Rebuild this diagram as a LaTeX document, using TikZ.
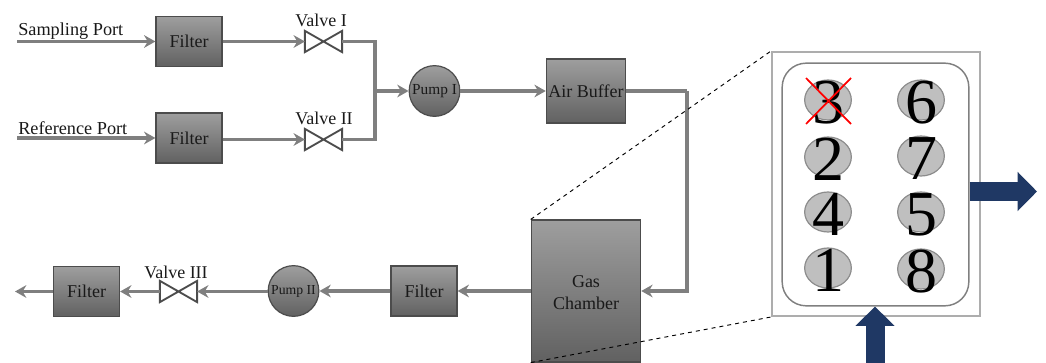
\documentclass[tikz,border=0pt]{standalone}
\usepackage{fontspec}
\setmainfont{Liberation Serif}
\usetikzlibrary{arrows.meta,shapes.geometric}
\definecolor{navy}{HTML}{1F3864}
\definecolor{pipegray}{HTML}{7F7F7F}
\definecolor{crossred}{HTML}{FF0000}
\tikzset{>=Stealth,
  txt/.style={text=black!90,inner sep=0pt},
  box/.style={draw=black!70,line width=.9pt,top color=black!38,bottom color=black!62,inner sep=0pt,text=black!90,font=\fontsize{13.5}{16.5}\selectfont},
  pump/.style={box,circle,minimum size=38pt},
  valve/.style={inner sep=0pt,minimum width=27.5pt,minimum height=15.5pt},
  valveline/.style={draw=black!70,line width=1.4pt,line join=miter},
  pipe/.style={draw=pipegray,line width=2.5pt},
  flow/.style={pipe,-{Stealth[length=8.5pt,width=9.5pt]}},
  cell/.style={ellipse,draw=black!45,fill=black!25,line width=.9pt,minimum width=35pt,minimum height=30pt,inner sep=0pt},
  digit/.style={inner sep=0pt,font=\fontsize{48}{48}\selectfont},
  bigflow/.style={draw=navy,line width=14.25pt,-{Triangle[length=14.5pt,width=28.5pt]}}}
\begin{document}
\begin{tikzpicture}[x=.75pt,y=-.75pt]
\useasboundingbox (0,0) rectangle (1046,363);
\node[box,minimum width=49.5pt,minimum height=37.5pt] (f1) at (189,41.5){Filter};
\node[box,minimum width=49.5pt,minimum height=37.5pt] (f2) at (189,138){Filter};
\node[box,minimum width=49.5pt,minimum height=37.5pt] (f3) at (424,291){Filter};
\node[box,minimum width=49.5pt,minimum height=37.5pt] (f4) at (86.5,291.5){Filter};
\node[valve] (v1) at (323.5,41.5){};\node[valve] (v2) at (323.5,139.5){};\node[valve] (v3) at (178.5,291.5){};
\foreach \vv in {v1,v2,v3}\draw[valveline] (\vv.north west)--(\vv.south east)--(\vv.north east)--(\vv.south west)--cycle;
\node[txt,anchor=base west,font=\fontsize{13.7}{16}\selectfont] (sport) at (18,36){Sampling Port};
\node[txt,anchor=base west,font=\fontsize{13.7}{16}\selectfont] (rport) at (18,134.5){Reference Port};
\node[txt,anchor=base,font=\fontsize{13.5}{16}\selectfont] (vl1) at (321,27){Valve I};
\node[txt,anchor=base,font=\fontsize{13.5}{16}\selectfont] (vl2) at (324,125){Valve II};
\node[txt,anchor=base,font=\fontsize{13.5}{16}\selectfont] (vl3) at (176,279){Valve III};
\node[pump,font=\fontsize{11.5}{14}\selectfont] (p1) at (434.5,91){Pump I};
\node[pump,font=\fontsize{10.3}{12}\selectfont] (p2) at (293.5,291){Pump II};
\node[box,minimum width=59.5pt,minimum height=48pt] (buf) at (586,91){Air Buffer};
\node[box,minimum width=82pt,minimum height=106.5pt] (gas) at (586,291){};
\node[txt,align=center,font=\fontsize{13.5}{16.5}\selectfont] (gastxt) at (586,293){Gas\\Chamber};
% inlets and outlet
\coordinate (in1) at (17,41.5);\coordinate (in2) at (17,138);\coordinate (out) at (15,291.5);
\coordinate (j1) at (375,91);\coordinate (j2) at (687,91);
\draw[flow] (in1)--(in1 -| f1.west);\draw[flow] (in2)--(in2 -| f2.west);
\draw[flow] (f1.east)--(v1.west);\draw[flow] (f2.east |- v2)--(v2.west);
\draw[pipe,line join=miter] (v1.east) -| (j1) |- (v2.east);
\draw[flow] (j1)--(p1.west);\draw[flow] (p1.east)--(buf.west);
\draw[pipe] (buf.east)--(j2);\draw[flow] (j2) |- (gas.east);
\draw[flow] (gas.west)--(f3.east);\draw[flow] (f3.west)--(p2.east);
\draw[flow] (p2.west |- v3)--(v3.east);\draw[flow] (v3.west)--(f4.east);\draw[flow] (f4.west)--(out);
% enlarged view of the chamber
\node[draw=black!32,line width=1.5pt,minimum width=156pt,minimum height=198pt,inner sep=0pt] (zoom) at (876,184){};
\node[draw=black!50,line width=1.1pt,rounded corners=18pt,minimum width=140pt,minimum height=182pt,inner sep=0pt] (tray) at (875.5,184.5){};
\foreach \dd/\xx/\yy in {3/828/100,2/828/157,4/828/212,1/828/268,6/921/100,7/921/156,5/921/212,8/921/269}{
\node[cell] (c\dd) at (\xx,\yy){};\node[digit] (d\dd) at ([yshift=-1.8pt]c\dd){\dd};}
\coordinate (xa) at (806,78);\coordinate (xb) at (851,124);
\draw[draw=crossred,line width=1.3pt] (xa)--(xb);
\draw[draw=crossred,line width=1.3pt] (xa -| xb)--(xb -| xa);
\coordinate (outR) at (1037,191.5);\coordinate (inB) at (875,363);
\draw[bigflow] (outR -| tray.east)--(outR);\draw[bigflow] (inB)--(inB |- tray.south);
\draw[dashed,line width=.7pt] (gas.north west)--(zoom.north west);
\draw[dashed,line width=.7pt] (gas.south west)--(zoom.south west);
\end{tikzpicture}
\end{document}
